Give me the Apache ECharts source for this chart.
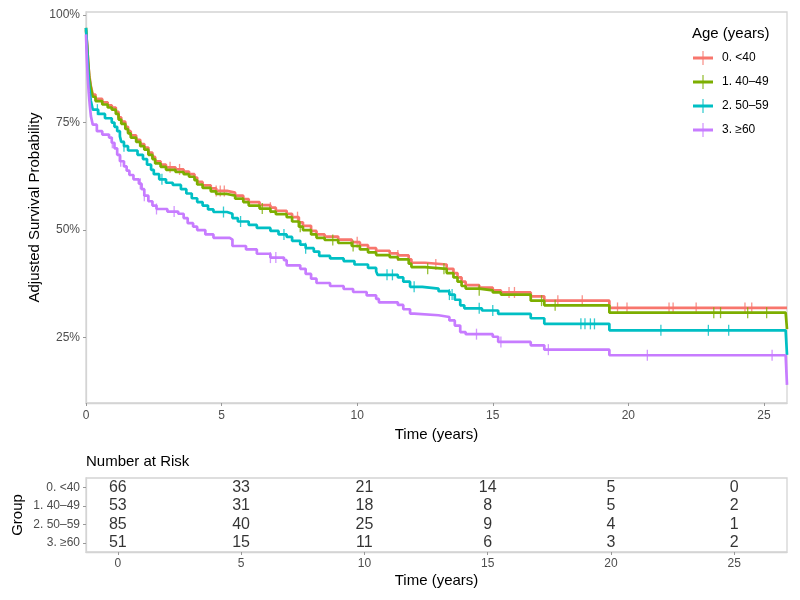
<!DOCTYPE html>
<html><head><meta charset="utf-8">
<script src="https://cdn.jsdelivr.net/npm/echarts@6/dist/echarts.min.js"></script>
<style>html,body{margin:0;padding:0;background:#fff}#c{width:800px;height:600px}</style>
</head><body><div id="c"></div>
<script>
const groups = ['0. <40', '1. 40–49', '2. 50–59', '3. ≥60'];
const colors = ['#F8766D', '#7CAE00', '#00BFC4', '#C77CFF'];

const curveLt40 = [[0,0.965],[0.04,0.93],[0.08,0.89],[0.12,0.86],[0.18,0.835],[0.25,0.815],[0.35,0.805],[0.6,0.797],[0.8,0.79],[0.95,0.785],[1.1,0.775],[1.2,0.762],[1.3,0.752],[1.45,0.74],[1.55,0.73],[1.65,0.72],[1.85,0.71],[2.0,0.70],[2.15,0.692],[2.3,0.68],[2.45,0.67],[2.55,0.66],[2.75,0.652],[2.95,0.646],[3.3,0.641],[3.6,0.636],[3.8,0.63],[4.0,0.622],[4.1,0.612],[4.3,0.604],[4.6,0.597],[4.8,0.591],[5.2,0.587],[5.5,0.58],[5.8,0.572],[6.0,0.565],[6.4,0.558],[6.8,0.552],[7.0,0.545],[7.4,0.538],[7.6,0.53],[7.85,0.518],[8.0,0.51],[8.3,0.498],[8.5,0.49],[8.8,0.485],[9.3,0.478],[9.8,0.472],[10.1,0.465],[10.4,0.458],[10.7,0.452],[11.2,0.446],[11.5,0.441],[11.9,0.432],[12.0,0.424],[12.5,0.42],[13.3,0.41],[13.55,0.40],[13.7,0.39],[13.85,0.38],[14.0,0.372],[14.5,0.366],[15.0,0.36],[15.3,0.355],[16.4,0.346],[16.9,0.336],[19.3,0.319],[25.85,0.319]];
const curve40_49 = [[0,0.97],[0.04,0.93],[0.08,0.89],[0.12,0.855],[0.18,0.83],[0.25,0.81],[0.35,0.80],[0.6,0.792],[0.8,0.785],[0.95,0.78],[1.1,0.77],[1.2,0.757],[1.3,0.747],[1.45,0.735],[1.55,0.725],[1.65,0.715],[1.85,0.705],[2.0,0.695],[2.15,0.687],[2.3,0.675],[2.45,0.665],[2.55,0.655],[2.75,0.647],[2.95,0.64],[3.3,0.635],[3.6,0.63],[3.8,0.624],[4.0,0.616],[4.1,0.606],[4.3,0.598],[4.6,0.59],[4.8,0.584],[5.2,0.58],[5.5,0.573],[5.8,0.565],[6.0,0.557],[6.4,0.55],[6.8,0.543],[7.0,0.537],[7.4,0.53],[7.6,0.52],[7.85,0.508],[8.0,0.50],[8.3,0.49],[8.5,0.482],[8.8,0.477],[9.3,0.47],[9.8,0.463],[10.1,0.455],[10.4,0.448],[10.7,0.442],[11.2,0.437],[11.5,0.432],[11.9,0.422],[12.0,0.414],[12.5,0.41],[13.3,0.40],[13.55,0.39],[13.7,0.38],[13.85,0.37],[14.0,0.364],[14.5,0.36],[15.0,0.355],[15.3,0.35],[16.4,0.336],[16.9,0.325],[19.3,0.308],[25.8,0.308],[25.85,0.27]];
const curve50_59 = [[0,0.97],[0.04,0.92],[0.08,0.87],[0.12,0.83],[0.18,0.80],[0.25,0.78],[0.45,0.77],[0.7,0.76],[0.95,0.75],[1.05,0.74],[1.15,0.73],[1.25,0.718],[1.3,0.705],[1.4,0.695],[1.55,0.685],[1.9,0.675],[2.1,0.665],[2.25,0.652],[2.4,0.64],[2.5,0.63],[2.7,0.618],[2.95,0.61],[3.2,0.605],[3.5,0.595],[3.7,0.585],[3.9,0.574],[4.1,0.565],[4.3,0.557],[4.5,0.548],[4.7,0.542],[5.2,0.538],[5.4,0.528],[5.6,0.52],[6.0,0.512],[6.3,0.505],[6.8,0.498],[7.1,0.49],[7.4,0.484],[7.6,0.475],[7.9,0.466],[8.1,0.458],[8.4,0.45],[8.6,0.44],[9.0,0.434],[9.5,0.428],[9.9,0.42],[10.4,0.412],[10.7,0.404],[10.75,0.396],[11.5,0.39],[11.7,0.38],[11.95,0.368],[12.4,0.364],[13.0,0.358],[13.4,0.35],[13.6,0.338],[13.8,0.325],[13.95,0.318],[14.6,0.313],[15.2,0.305],[16.4,0.295],[16.9,0.282],[19.3,0.267],[25.8,0.267],[25.85,0.21]];
const curveGe60 = [[0,0.955],[0.03,0.90],[0.06,0.86],[0.1,0.82],[0.14,0.79],[0.18,0.765],[0.25,0.745],[0.4,0.73],[0.6,0.722],[0.85,0.715],[0.95,0.703],[1.05,0.69],[1.15,0.675],[1.25,0.66],[1.4,0.648],[1.5,0.638],[1.6,0.628],[1.75,0.618],[1.95,0.608],[2.05,0.595],[2.15,0.58],[2.3,0.567],[2.45,0.557],[2.6,0.549],[3.0,0.543],[3.4,0.538],[3.6,0.528],[3.75,0.516],[3.95,0.508],[4.1,0.50],[4.4,0.49],[4.7,0.482],[5.3,0.478],[5.4,0.463],[5.9,0.455],[6.3,0.445],[6.8,0.436],[7.3,0.43],[7.4,0.418],[7.9,0.41],[8.1,0.398],[8.3,0.387],[8.5,0.377],[9.0,0.37],[9.5,0.363],[9.85,0.356],[10.35,0.348],[10.7,0.34],[10.8,0.332],[11.5,0.326],[11.7,0.316],[11.95,0.306],[12.1,0.302],[13.0,0.298],[13.4,0.29],[13.6,0.278],[13.8,0.263],[14.0,0.258],[15.0,0.252],[15.2,0.24],[16.4,0.232],[16.9,0.222],[19.3,0.209],[25.8,0.209],[25.85,0.14]];

const censorLt40 = [3.1,3.45,4.8,4.95,5.1,6.8,7.8,10.0,11.5,12.9,15.6,15.8,17.4,18.3,19.6,19.95,21.5,21.65,22.5,24.3,24.55];
const censor40_49 = [6.5,7.9,9.1,9.85,12.6,13.2,14.5,16.8,17.3,23.15,23.4,24.4,25.1];
const censor50_59 = [0.42,1.4,2.8,5.07,5.7,7.3,8.1,11.1,11.3,12.1,13.4,13.5,14.5,15.0,18.25,18.4,18.6,18.75,21.2,22.95,23.7];
const censorGe60 = [0.97,1.28,2.0,2.15,2.6,3.25,6.8,7.0,14.4,15.3,17.05,20.7,25.3];

const riskTimes = [0, 5, 10, 15, 20, 25];
const riskLt40 = [66, 33, 21, 14, 5, 0];
const risk40_49 = [53, 31, 18, 8, 5, 2];
const risk50_59 = [85, 40, 25, 9, 4, 1];
const riskGe60 = [51, 15, 11, 6, 3, 2];

const yTicks = [0.25, 0.5, 0.75, 1.0];
const xTicks = [0, 5, 10, 15, 20, 25];

const curves = [curveLt40, curve40_49, curve50_59, curveGe60];
const censors = [censorLt40, censor40_49, censor50_59, censorGe60];
const risks = [riskLt40, risk40_49, risk50_59, riskGe60];

function survAt(curve, t) {
  let s = curve[0][1];
  for (const p of curve) { if (p[0] <= t) s = p[1]; else break; }
  return s;
}

const FONT = '"Liberation Sans", Arial, sans-serif';
const GREY = '#4d4d4d';
const BORDER = '#d4d4d4';

const series = [];
curves.forEach((c, i) => {
  series.push({
    name: groups[i], type: 'line', step: 'end', data: c,
    xAxisIndex: 0, yAxisIndex: 0, showSymbol: false, symbol: 'none',
    lineStyle: { width: 2.7, color: colors[i] }, itemStyle: { color: colors[i] },
    z: 2 + i, silent: true, animation: false
  });
});
censors.forEach((ts, i) => {
  series.push({
    name: 'censor' + i, type: 'scatter', xAxisIndex: 0, yAxisIndex: 0,
    data: ts.map(t => [t, survAt(curves[i], t)]),
    symbol: 'rect', symbolSize: [1.3, 11],
    itemStyle: { color: colors[i] }, z: 2 + i, silent: true, animation: false
  });
});
const riskData = [];
risks.forEach((r, gi) => r.forEach((v, k) => riskData.push([riskTimes[k], groups[gi], v])));
series.push({
  type: 'scatter', xAxisIndex: 1, yAxisIndex: 1, data: riskData,
  symbolSize: 1, itemStyle: { color: 'rgba(0,0,0,0)' }, silent: true, animation: false,
  label: { show: true, position: 'inside', formatter: p => String(p.value[2]),
           color: '#000', fontSize: 16, fontFamily: FONT }
});

const legendIcon = 'path://M0,5.6L20,5.6L20,8.4L0,8.4Z M9.5,0L10.5,0L10.5,14L9.5,14Z';

const option = {
  animation: false,
  backgroundColor: '#fff',
  textStyle: { fontFamily: FONT },
  grid: [
    { left: 86, right: 13, top: 12, height: 391, show: true, borderColor: BORDER, borderWidth: 1.3, outerBoundsMode: 'none', containLabel: false },
    { left: 86, right: 13, top: 478, height: 74, show: true, borderColor: BORDER, borderWidth: 1.3, outerBoundsMode: 'none', containLabel: false }
  ],
  xAxis: [
    { type: 'value', gridIndex: 0, min: 0, max: 25.85,
      axisLine: { show: true, onZero: false, lineStyle: { color: BORDER, width: 1.3 } },
      axisTick: { show: true, length: 3, customValues: xTicks, lineStyle: { color: '#999' } },
      splitLine: { show: false },
      axisLabel: { color: GREY, fontSize: 12, margin: 7, customValues: xTicks, fontFamily: FONT },
      name: 'Time (years)', nameLocation: 'middle', nameGap: 23,
      nameTextStyle: { color: '#000', fontSize: 15, fontFamily: FONT } },
    { type: 'value', gridIndex: 1, min: -1.29, max: 27.14,
      axisLine: { show: true, onZero: false, lineStyle: { color: BORDER, width: 1.3 } },
      axisTick: { show: true, length: 3, customValues: xTicks, lineStyle: { color: '#999' } },
      splitLine: { show: false },
      axisLabel: { color: GREY, fontSize: 12, margin: 6, customValues: xTicks, fontFamily: FONT },
      name: 'Time (years)', nameLocation: 'middle', nameGap: 21,
      nameTextStyle: { color: '#000', fontSize: 15, fontFamily: FONT } }
  ],
  yAxis: [
    { type: 'value', gridIndex: 0, min: 0.098, max: 1.007,
      axisLine: { show: true, onZero: false, lineStyle: { color: BORDER, width: 1.3 } },
      axisTick: { show: true, length: 3, customValues: yTicks, lineStyle: { color: '#999' } },
      splitLine: { show: false },
      axisLabel: { color: GREY, fontSize: 12, margin: 6, customValues: yTicks,
                   formatter: v => Math.round(v * 100) + '%', fontFamily: FONT },
      name: 'Adjusted Survival Probability', nameLocation: 'middle', nameGap: 44, nameMoveOverlap: false,
      nameTextStyle: { color: '#000', fontSize: 15, fontFamily: FONT } },
    { type: 'category', gridIndex: 1, data: groups, inverse: true,
      axisLine: { show: true, onZero: false, lineStyle: { color: BORDER, width: 1.3 } },
      axisTick: { show: true, length: 3, alignWithLabel: true, lineStyle: { color: '#999' } },
      splitLine: { show: false },
      axisLabel: { color: GREY, fontSize: 12, margin: 6, fontFamily: FONT },
      name: 'Group', nameLocation: 'middle', nameGap: 61, nameMoveOverlap: false,
      nameTextStyle: { color: '#000', fontSize: 15, fontFamily: FONT } }
  ],
  legend: {
    orient: 'vertical', left: 688, top: 46, itemWidth: 20, itemHeight: 14, itemGap: 10,
    data: groups.map(g => ({ name: g, icon: legendIcon })),
    textStyle: { color: '#000', fontSize: 12, fontFamily: FONT, padding: [0, 0, 0, 4] },
    selectedMode: false
  },
  graphic: [
    { type: 'text', left: 692, top: 26, style: { text: 'Age (years)', fill: '#000', font: '15px ' + FONT } },
    { type: 'text', left: 86, top: 454, style: { text: 'Number at Risk', fill: '#000', font: '15px ' + FONT } }
  ],
  series: series
};
const chart = echarts.init(document.getElementById('c'), null, { renderer: 'canvas' });
chart.setOption(option);
</script></body></html>
